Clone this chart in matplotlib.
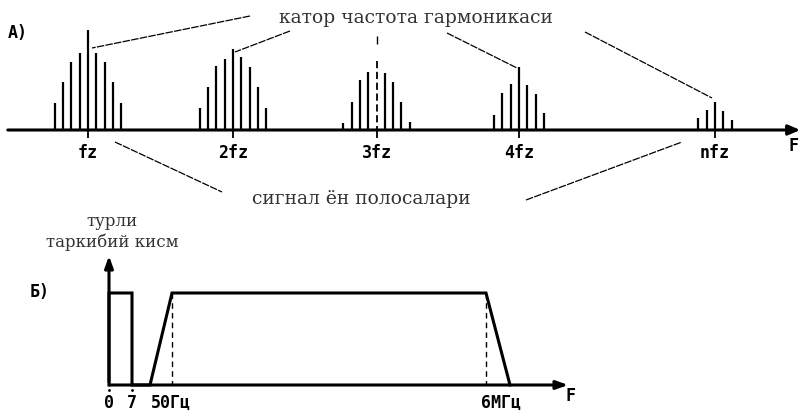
import matplotlib.pyplot as plt
import numpy as np

plt.rcParams['font.family'] = ['DejaVu Sans']

# --- A) harmonic spectrum: centre positions and side-band amplitudes
harm_labels = ["fz", "2fz", "3fz", "4fz", "nfz"]
harm_pos = [88, 233, 376.5, 519, 715]
band_step = 8.3
band_heights = [
    [27, 48, 68, 77, 100, 77, 68, 48, 27],
    [22, 43, 64, 71, 81, 73, 63, 43, 22],
    [7, 28, 50, 58, 69, 57, 48, 28, 8],
    [15, 37, 46, 63, 45, 36, 17],
    [12, 20, 28, 19, 10],
]

# --- Б) video signal band (frequency positions on the sketch axis)
band_labels = ["0", "7", "50Гц", "6МГц"]
band_freq = [109, 132, 172, 486]
band_shape_x = [109, 109, 132, 132, 150, 172, 486, 510]
band_shape_y = [0, 1, 1, 0, 0, 1, 1, 0]

top_text = "катор частота гармоникаси"
mid_text = "сигнал ён полосалари"
side_text = "турли\nтаркибий кисм"

fig = plt.figure(figsize=(8.05, 4.13), dpi=100)
ax = fig.add_axes([0, 0, 1, 1])
ax.set_xlim(0, 805)
ax.set_ylim(413, 0)
ax.axis('off')

mono = dict(family='DejaVu Sans Mono', fontweight='bold', fontsize=12, color='black')
serif = dict(family='DejaVu Serif', fontsize=13.5, color='#333333')

# top spectrum
base_a = 130
ax.annotate('', xy=(803, base_a), xytext=(5, base_a),
            arrowprops=dict(arrowstyle='-|>,head_length=0.7,head_width=0.3', lw=2.2, color='black'))
for i, (pos, hts) in enumerate(zip(harm_pos, band_heights)):
    n = len(hts)
    xs = pos + (np.arange(n) - (n - 1) / 2) * band_step
    tops = base_a - np.array(hts)
    if i == 2:
        mid = n // 2
        ax.vlines(np.delete(xs, mid), np.delete(tops, mid), base_a, color='black', lw=1.6)
        ax.vlines(xs[mid], tops[mid], base_a, color='black', lw=1.3, linestyles=(0, (4, 2)))
        ax.vlines(xs[mid], 36, 44, color='black', lw=1.0)
    else:
        ax.vlines(xs, tops, base_a, color='black', lw=1.6)
    ax.vlines(pos, base_a, base_a + 8, color='black', lw=1.3)
    ax.text(pos, 153, harm_labels[i], ha='center', va='center', **mono)

ax.text(793, 146, "F", ha='center', va='center', **mono)
ax.text(8, 33, "A)", ha='left', va='center', **mono)

# labels with leader lines
ax.text(416, 18, top_text, ha='center', va='center', **serif)
lead_top = [((250, 16), (92, 48)), ((290, 31), (235, 52)),
            ((447, 33), (517, 68)), ((585, 32), (712, 98))]
for (x0, y0), (x1, y1) in lead_top:
    ax.plot([x0, x1], [y0, y1], color='black', lw=0.9, linestyle=(0, (6, 1)))

ax.text(361, 199, mid_text, ha='center', va='center', **serif)
lead_mid = [((115, 142), (222, 192)), ((526, 200), (682, 142))]
for (x0, y0), (x1, y1) in lead_mid:
    ax.plot([x0, x1], [y0, y1], color='black', lw=0.9, linestyle=(0, (6, 1)))

# bottom band diagram
base_b = 385
top_b = 293
ax.annotate('', xy=(109, 253), xytext=(109, base_b),
            arrowprops=dict(arrowstyle='-|>,head_length=0.7,head_width=0.25', lw=2.2, color='black'))
ax.annotate('', xy=(571, base_b), xytext=(107, base_b),
            arrowprops=dict(arrowstyle='-|>,head_length=0.7,head_width=0.25', lw=2.2, color='black'))
ys = base_b - np.array(band_shape_y) * (base_b - top_b)
ax.plot(band_shape_x, ys, color='black', lw=2.2, solid_joinstyle='miter')
for xv in band_freq[2:]:
    ax.vlines(xv, top_b, base_b, color='black', lw=1.0, linestyles=(0, (4, 3)))
for xv in band_freq[:2]:
    ax.plot(xv, base_b + 5, marker='.', color='black', ms=2)

ax.text(109, 403, band_labels[0], ha='center', va='center', **mono)
ax.text(132, 403, band_labels[1], ha='center', va='center', **mono)
ax.text(151, 403, band_labels[2], ha='left', va='center', **mono)
ax.text(481, 403, band_labels[3], ha='left', va='center', **mono)
ax.text(570, 396, "F", ha='center', va='center', **mono)
ax.text(30, 292, "Б)", ha='left', va='center', **mono)

ax.text(112, 232, side_text, ha='center', va='center', linespacing=1.2,
        family='DejaVu Serif', fontsize=12, color='#333333')

fig.savefig("out.png", dpi=100)
